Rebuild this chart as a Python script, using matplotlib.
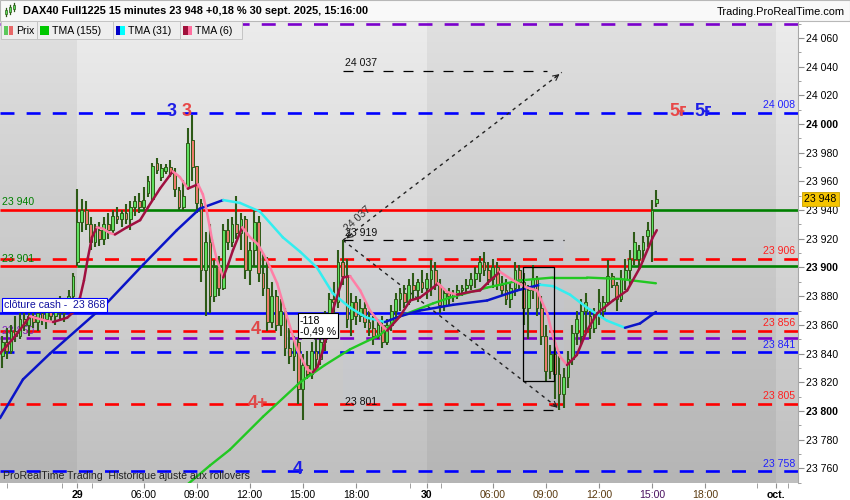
import numpy as np
import matplotlib.pyplot as plt
import matplotlib.patches as mpatches
from matplotlib.collections import LineCollection

plt.rcParams['font.family'] = ['Liberation Sans', 'DejaVu Sans']

# ---- bougies 15 min (index 0 = fin du 26/09, 17 = 1re bougie du 29, 96 = 1re du 30)
opens = [23838, 23848, 23842, 23856, 23852, 23864, 23860, 23866, 23862, 23868,
         23864, 23870, 23866, 23872, 23868, 23874, 23880, 23904, 23932, 23940,
         23930, 23918, 23926, 23920, 23930, 23926, 23936, 23934, 23938, 23934,
         23942, 23946, 23942, 23952, 23948, 23973, 23963, 23967, 23970, 23966,
         23954, 23942, 23956, 23989, 23971, 23945, 23898, 23918, 23880, 23900,
         23886, 23926, 23918, 23930, 23924, 23934, 23898, 23912, 23932, 23896,
         23886, 23862, 23880, 23860, 23870, 23844, 23838, 23848, 23815, 23832,
         23826, 23842, 23836, 23848, 23866, 23878, 23876, 23904, 23894, 23864,
         23876, 23866, 23872, 23862, 23858, 23852, 23860, 23848, 23860, 23870,
         23878, 23882, 23876, 23888, 23884, 23890,
         23886, 23892, 23898, 23888, 23874, 23882, 23880, 23882, 23884, 23886,
         23888, 23892, 23896, 23904, 23898, 23892, 23900, 23888, 23884, 23878,
         23886, 23898, 23890, 23872, 23884, 23892, 23872, 23852, 23828, 23840,
         23826, 23812, 23824, 23836, 23854, 23852, 23870, 23866, 23858, 23866,
         23870, 23876, 23894, 23888, 23878, 23892, 23898, 23906, 23906, 23912,
         23922, 23922, 23945]
highs = [23852, 23858, 23860, 23866, 23868, 23872, 23870, 23874, 23872, 23876,
         23874, 23878, 23876, 23880, 23878, 23884, 23896, 23955, 23948, 23946,
         23935, 23930, 23932, 23935, 23938, 23940, 23942, 23940, 23944, 23946,
         23950, 23952, 23956, 23964, 23973, 23976, 23972, 23972, 23975, 23969,
         23956, 23961, 23997, 24006, 23971, 23948, 23925, 23930, 23905, 23908,
         23930, 23934, 23935, 23950, 23938, 23936, 23918, 23940, 23936, 23910,
         23907, 23890, 23884, 23878, 23872, 23858, 23852, 23850, 23840, 23842,
         23848, 23850, 23852, 23870, 23882, 23890, 23912, 23919, 23906, 23882,
         23880, 23878, 23876, 23870, 23866, 23864, 23866, 23864, 23874, 23882,
         23886, 23888, 23892, 23896, 23892, 23898,
         23896, 23905, 23904, 23892, 23886, 23886, 23884, 23888, 23888, 23892,
         23896, 23900, 23908, 23911, 23904, 23906, 23904, 23894, 23892, 23890,
         23904, 23902, 23896, 23888, 23902, 23894, 23880, 23860, 23846, 23848,
         23838, 23830, 23842, 23860, 23870, 23878, 23882, 23870, 23872, 23885,
         23880, 23905, 23896, 23890, 23898, 23906, 23912, 23925, 23916, 23922,
         23932, 23947, 23954]
lows = [23830, 23836, 23840, 23848, 23850, 23856, 23852, 23858, 23856, 23860,
        23857, 23862, 23860, 23864, 23862, 23870, 23876, 23901, 23925, 23926,
        23912, 23914, 23915, 23916, 23920, 23924, 23930, 23928, 23930, 23926,
        23936, 23938, 23940, 23949, 23946, 23965, 23960, 23965, 23963, 23949,
        23940, 23940, 23954, 23960, 23938, 23890, 23866, 23868, 23876, 23880,
        23884, 23912, 23914, 23920, 23912, 23892, 23888, 23900, 23890, 23880,
        23856, 23858, 23856, 23852, 23838, 23833, 23828, 23805, 23794, 23822,
        23822, 23830, 23832, 23842, 23860, 23868, 23872, 23888, 23858, 23852,
        23860, 23862, 23858, 23852, 23846, 23850, 23844, 23846, 23856, 23864,
        23870, 23872, 23874, 23878, 23876, 23882,
        23878, 23880, 23884, 23868, 23870, 23874, 23876, 23878, 23880, 23882,
        23884, 23886, 23890, 23894, 23888, 23886, 23884, 23880, 23874, 23872,
        23880, 23884, 23860, 23850, 23878, 23866, 23846, 23820, 23822, 23808,
        23801, 23802, 23816, 23832, 23846, 23846, 23854, 23850, 23854, 23860,
        23864, 23874, 23886, 23870, 23876, 23884, 23888, 23902, 23898, 23904,
        23914, 23904, 23942]
closes = [23848, 23842, 23856, 23852, 23864, 23860, 23866, 23862, 23868, 23864,
          23870, 23866, 23872, 23868, 23874, 23880, 23894, 23932, 23940, 23930,
          23918, 23926, 23920, 23930, 23926, 23936, 23934, 23938, 23934, 23942,
          23946, 23942, 23947, 23960, 23971, 23968, 23969, 23970, 23966, 23955,
          23942, 23950, 23987, 23970, 23945, 23898, 23918, 23880, 23900, 23886,
          23926, 23918, 23930, 23924, 23934, 23898, 23912, 23932, 23896, 23886,
          23862, 23880, 23860, 23870, 23844, 23838, 23848, 23815, 23832, 23826,
          23842, 23836, 23848, 23866, 23878, 23876, 23904, 23894, 23864, 23876,
          23866, 23872, 23862, 23858, 23852, 23860, 23848, 23860, 23870, 23878,
          23882, 23876, 23888, 23884, 23890, 23886,
          23892, 23898, 23888, 23874, 23882, 23880, 23882, 23884, 23886, 23888,
          23892, 23896, 23904, 23898, 23892, 23900, 23888, 23884, 23878, 23886,
          23898, 23890, 23872, 23884, 23892, 23872, 23852, 23828, 23840, 23826,
          23812, 23824, 23836, 23854, 23864, 23870, 23876, 23858, 23866, 23876,
          23876, 23894, 23888, 23878, 23892, 23898, 23906, 23918, 23912, 23918,
          23926, 23940, 23948]

# ---- moyennes (points relevés : index de bougie, prix)
tma155_x = [41.6, 47.0, 51.5, 59.0, 67.4, 73.0, 78.7, 85.5, 90.0, 97.5, 101.3,
            109.7, 117.1, 124.6, 132.3, 139.8, 147.9]
tma155_y = [23748, 23762, 23773, 23796, 23820, 23832, 23843, 23853, 23866, 23875,
            23879, 23886, 23891, 23893, 23893, 23892, 23889]

tma31_x = [-0.5, 4.7, 10.8, 23.3, 31.9, 39.5, 44.7, 50.0, 53.8, 58.3, 63.5, 67.4,
           71.2, 74.8, 78.7, 82.5, 86.6, 90.0, 94.5, 102.0, 109.7, 116.5, 121.7,
           124.6, 128.5, 132.3, 136.8, 140.9, 144.3, 147.9]
tma31_y = [23795, 23822, 23840, 23874, 23902, 23926, 23941, 23947, 23945, 23939,
           23921, 23911, 23900, 23882, 23872, 23865, 23862, 23866, 23870, 23874,
           23877, 23884, 23888, 23887, 23881, 23872, 23863, 23858, 23861, 23869]

tma6_x = [-0.5, 2.9, 6.3, 9.7, 11.5, 14.7, 16.5, 17.6, 18.5, 19.4, 20.3, 21.4,
          22.8, 24.4, 25.5, 28.2, 31.2, 33.0, 35.7, 38.6, 40.2, 42.0, 44.3, 45.4,
          46.3, 47.5, 48.6, 50.0, 51.1, 52.2, 54.3, 56.1, 57.9, 59.9, 62.2, 64.4,
          66.7, 69.0, 70.3, 71.4, 72.6, 74.8, 77.1, 78.7, 81.0, 83.2, 85.5, 87.1,
          90.0, 92.3, 94.5, 97.5, 98.6, 100.6, 102.9, 105.8, 108.1, 110.4, 112.6,
          115.6, 118.7, 121.0, 123.3, 124.6, 126.2, 127.8, 130.0, 132.3, 134.6,
          138.2, 141.4, 144.3, 147.2, 148.1]
tma6_y = [23840, 23852, 23866, 23863, 23862, 23865, 23870, 23879, 23891, 23907,
          23921, 23928, 23927, 23924, 23923, 23928, 23933, 23942, 23955, 23967,
          23963, 23955, 23958, 23951, 23939, 23919, 23905, 23893, 23902, 23912,
          23928, 23921, 23916, 23905, 23889, 23866, 23843, 23829, 23827, 23831,
          23843, 23870, 23893, 23894, 23884, 23870, 23861, 23856, 23866, 23877,
          23879, 23886, 23889, 23883, 23881, 23883, 23884, 23891, 23897, 23891,
          23886, 23884, 23868, 23852, 23838, 23832, 23839, 23856, 23868, 23877,
          23884, 23900, 23921, 23926]

# ---- niveaux horizontaux
dash_levels = [24070, 24008, 23906, 23856, 23851, 23841, 23805, 23758]
dash_colors = ['#7b00cc', '#0000ff', '#ff0000', '#ff0000', '#7b00cc', '#0000ff',
               '#ff0000', '#0000ff']
right_labels = [(24008, '24 008', '#2020ff'), (23906, '23 906', '#ff2020'),
                (23856, '23 856', '#ff2020'), (23841, '23 841', '#2020ff'),
                (23805, '23 805', '#ff2020'), (23758, '23 758', '#2020ff')]
close_cash = 23868
seg_23940 = [(-0.5, 30.7, '#ff0000'), (30.7, 44.7, '#008000'),
             (44.7, 146.8, '#ff0000'), (146.8, 180.05, '#008000')]
seg_23901 = [(-0.5, 17, '#ff0000'), (17, 60, '#008000'),
             (60, 142, '#ff0000'), (142, 180.05, '#008000')]

tick_pos = [17, 32, 44, 56, 68, 80, 96, 111, 123, 135, 147, 159, 175]
tick_lab = ['29', '06:00', '09:00', '12:00', '15:00', '18:00', '30', '06:00',
            '09:00', '12:00', '15:00', '18:00', 'oct.']
minor_pos = [1.1, 13.5, 20.3, 92.3, 99.3, 170.8, 177.8]

W, H = 850, 500
def fx(x):
    return x / W
def fy(y):
    return 1 - y / H

fig = plt.figure(figsize=(8.5, 5), dpi=100)
fig.patch.set_facecolor('white')
ax = fig.add_axes([0, fy(483), fx(798), (483 - 21) / H])
XMIN, XMAX, YMIN, YMAX = -0.5, 180.05, 23749.8, 24071.8

# fond dégradé + alternance des jours
g = np.linspace(0, 1, 256)[:, None, None]
top = np.array([0xec, 0xec, 0xec]) / 255
bot = np.array([0xbf, 0xbf, 0xbf]) / 255
img = top + (bot - top) * g
ax.imshow(img, extent=[XMIN, XMAX, YMIN, YMAX], aspect='auto', origin='upper', zorder=0)
for a, b in [(XMIN, 17), (96, 175)]:
    ax.axvspan(a, b, color='black', alpha=0.05, lw=0, zorder=0.5)

# zone du retracement
ax.add_patch(mpatches.Rectangle((77.1, 23801), 50, 118, facecolor='#c0c8dc',
                                alpha=0.18, lw=0, zorder=0.6))

# niveaux
for lv, col in zip(dash_levels, dash_colors):
    ax.axhline(lv, color=col, lw=1.9, ls=(0, (5.3, 4.6)), zorder=2)
ax.axhline(close_cash, color='#0000ff', lw=1.9, zorder=2)
for a, b, col in seg_23940:
    ax.hlines(23940, a, b, color=col, lw=1.9, zorder=2)
for a, b, col in seg_23901:
    ax.hlines(23901, a, b, color=col, lw=1.9, zorder=2)

# tracé fibo / mesure
for lv, xe in [(24037, 123.3), (23919, 127.0), (23801, 126.5)]:
    ax.hlines(lv, 77.1, xe, color='black', lw=0.9, ls=(0, (8, 8)), zorder=3)
ax.plot([77.1, 126.6], [23919, 24036], color='#222222', lw=1.0, ls=(0, (2.5, 3)), zorder=3)
ax.plot([77.1, 126.2], [23919, 23801], color='#222222', lw=1.0, ls=(0, (2.5, 3)), zorder=3)
ax.annotate('', xy=(126.6, 24036), xytext=(124.5, 24031),
            arrowprops=dict(arrowstyle='->', color='#222222', lw=0.8), zorder=3)
ax.annotate('', xy=(77.3, 23919), xytext=(79.4, 23924),
            arrowprops=dict(arrowstyle='->', color='#222222', lw=0.8), zorder=3)
ax.annotate('', xy=(126.2, 23801), xytext=(124.2, 23806),
            arrowprops=dict(arrowstyle='->', color='#222222', lw=0.8), zorder=3)
ax.add_patch(mpatches.Rectangle((117.8, 23821), 7, 79, fill=False, ec='black',
                                lw=0.9, zorder=7))

# bougies
idx = np.arange(len(closes))
o = np.array(opens); c = np.array(closes)
up = c >= o
ax.vlines(idx, lows, highs, color='#2d5a17', lw=1.5, zorder=4)
ax.bar(idx, np.maximum(np.abs(c - o), 0.8), bottom=np.minimum(o, c), width=0.62,
       color=np.where(up, '#5fe05f', '#ec7a6c'), edgecolor='#2d5a17', linewidth=0.7,
       zorder=5)

def draw_ma(xs, ys, col_up, col_dn, lw):
    segs = [[(xs[i], ys[i]), (xs[i + 1], ys[i + 1])] for i in range(len(xs) - 1)]
    cols = [col_up if ys[i + 1] >= ys[i] else col_dn for i in range(len(xs) - 1)]
    ax.add_collection(LineCollection(segs, colors=cols, linewidths=lw,
                                     capstyle='round', joinstyle='round', zorder=6))

draw_ma(tma155_x, tma155_y, '#22c822', '#22c822', 1.7)
draw_ma(tma31_x, tma31_y, '#0a14c8', '#33eef0', 1.8)
draw_ma(tma6_x, tma6_y, '#a01040', '#ff7fa6', 1.8)

ax.set_xlim(XMIN, XMAX)
ax.set_ylim(YMIN, YMAX)

# textes dans le graphique
def fmt(v):
    return f'{v // 1000} {v % 1000:03d}'

for lv, lab, col in right_labels:
    ax.annotate(lab, (179.4, lv), xytext=(0, 5.5), textcoords='offset points',
                ha='right', va='center', fontsize=7.6, color=col, zorder=8)
ax.annotate('23 940', (0, 23940), xytext=(0, 5.5), textcoords='offset points',
            ha='left', va='center', fontsize=7.6, color='#008000', zorder=8)
ax.annotate('23 901', (0, 23901), xytext=(0, 5.2), textcoords='offset points',
            ha='left', va='center', fontsize=7.6, color='#008000', zorder=8)
ax.annotate('23 850', (0, 23851), xytext=(0, 5.2), textcoords='offset points',
            ha='left', va='center', fontsize=7.6, color='#8020c0', zorder=3)
ax.annotate('clôture cash -  23 868', (0, close_cash), xytext=(1.5, 6.3),
            textcoords='offset points', ha='left', va='center', fontsize=7.6,
            color='#1010a0', zorder=9,
            bbox=dict(boxstyle='square,pad=0.18', fc='white', ec='#0000ff', lw=0.8))
for lv, lab in [(24037, '24 037'), (23919, '23 919'), (23801, '23 801')]:
    ax.annotate(lab, (77.6, lv), xytext=(0, 5.5), textcoords='offset points',
                ha='left', va='center', fontsize=7.6, color='#111111', zorder=8)
ax.text(77.0, 23924, '24 037', rotation=43, fontsize=7.6, color='#333333',
        ha='left', va='bottom', zorder=8)
ax.text(67.3, 23866.5, '-118\n-0,49 %', ha='left', va='top', fontsize=7.6,
        linespacing=1.1, zorder=9,
        bbox=dict(boxstyle='square,pad=0.2', fc='white', ec='black', lw=0.8))

big = dict(fontsize=13, fontweight='bold', ha='center', va='center', zorder=8)
ax.text(38.4, 24008.5, '3', color='#1e1ee6', **big)
ax.text(41.8, 24008.5, '3', color='#e84848', **big)
ax.text(152.9, 24008.5, '5ғ', color='#e84848', **big)
ax.text(158.5, 24008.5, '5ғ', color='#1e1ee6', **big)
ax.text(57.4, 23856.5, '4', color='#e04848', **big)
ax.text(57.9, 23805, '4+', color='#e04848', **big)
ax.text(66.9, 23759.5, '4', color='#1e1ee6', **big)
# repère violet coupé par le bord haut du graphique
ax.text(71.9, 24076, '4', color='#7b00cc', clip_on=True, **big)
ax.text(0.2, 23754.5, 'ProRealTime Trading  Historique ajusté aux rollovers',
        fontsize=7.6, color='#222222', ha='left', va='center', zorder=8)

# axes
for s in ['top', 'left', 'bottom']:
    ax.spines[s].set_visible(False)
ax.spines['right'].set_color('#a8a8a8')
ax.yaxis.tick_right()
ax.set_yticks(range(23760, 24061, 20))
ax.set_yticks(range(23750, 24071, 10), minor=True)
ax.set_yticklabels([fmt(v) for v in range(23760, 24061, 20)])
for t, v in zip(ax.get_yticklabels(), range(23760, 24061, 20)):
    if v % 100 == 0:
        t.set_fontweight('bold')
ax.tick_params(axis='y', which='both', direction='out', colors='#909090',
               labelcolor='black', labelsize=7.6, pad=2)
ax.tick_params(axis='y', which='major', length=4)
ax.tick_params(axis='y', which='minor', length=2.5)
ax.set_xticks(tick_pos)
ax.set_xticks(minor_pos, minor=True)
ax.set_xticklabels(tick_lab)
ax.tick_params(axis='x', which='both', direction='out', colors='#909090',
               labelcolor='black', labelsize=7.6, length=3.5, pad=1.5)
for i, t in enumerate(ax.get_xticklabels()):
    lab = tick_lab[i]
    if lab in ('29', '30', 'oct.'):
        t.set_fontweight('bold')
    elif tick_pos[i] > 96:
        t.set_color('#4a1060' if lab == '15:00' else '#5a3a10')

# prix courant
fig.patches.append(mpatches.Rectangle((fx(802), fy(206)), 37 / W, 14 / H,
                                      transform=fig.transFigure, fc='#f5c400',
                                      ec='#c8a000', lw=0.6))
fig.text(fx(804), fy(199), '23 948', fontsize=7.6, va='center', ha='left')

# en-tête
fig.patches.append(mpatches.Rectangle((0, fy(21)), 1, 21 / H, transform=fig.transFigure,
                                      fc='#f9f9f9', ec='#b8b8b8', lw=0.8, zorder=5))
for xc, y0, y1, b0, b1 in [(6, 8, 16, 10, 14), (10, 5, 14, 7, 12), (14, 3, 11, 5, 9)]:
    fig.add_artist(plt.Line2D([fx(xc), fx(xc)], [fy(y1), fy(y0)], color='#2d5a17',
                              lw=0.9, zorder=6))
    fig.patches.append(mpatches.Rectangle((fx(xc - 1.3), fy(b1)), 2.6 / W, (b1 - b0) / H,
                                          transform=fig.transFigure, fc='#5fe05f',
                                          ec='#2d5a17', lw=0.5, zorder=6))
fig.text(fx(23), fy(11.5), 'DAX40 Full1225 15 minutes 23 948 +0,18 % 30 sept. 2025, 15:16:00',
         fontsize=7.9, fontweight='bold', va='center', ha='left', zorder=7)
fig.text(fx(845), fy(12), 'Trading.ProRealTime.com', fontsize=7.9, va='center',
         ha='right', zorder=7)

# onglets de légende
tabs = [(1, 37, 'Prix', '#5cc85c', '#e86868'), (37, 113, 'TMA (155)', '#00c800', '#00c800'),
        (113, 180, 'TMA (31)', '#0000c8', '#00ffff'), (180, 242, 'TMA (6)', '#a0103a', '#ff6f9f')]
for x0, x1, lab, c1, c2 in tabs:
    fig.patches.append(mpatches.Rectangle((fx(x0), fy(39)), (x1 - x0) / W, 18 / H,
                                          transform=fig.transFigure, fc='#eeeeee',
                                          ec='#c4c4c4', lw=0.7, zorder=8))
    fig.patches.append(mpatches.Rectangle((fx(x0 + 3), fy(35)), 4.5 / W, 9 / H,
                                          transform=fig.transFigure, fc=c1, lw=0, zorder=9))
    fig.patches.append(mpatches.Rectangle((fx(x0 + 7.5), fy(35)), 4.5 / W, 9 / H,
                                          transform=fig.transFigure, fc=c2, lw=0, zorder=9))
    fig.text(fx(x0 + 15), fy(30.5), lab, fontsize=7.6, va='center', ha='left', zorder=10)

fig.savefig('out.png', dpi=100)
